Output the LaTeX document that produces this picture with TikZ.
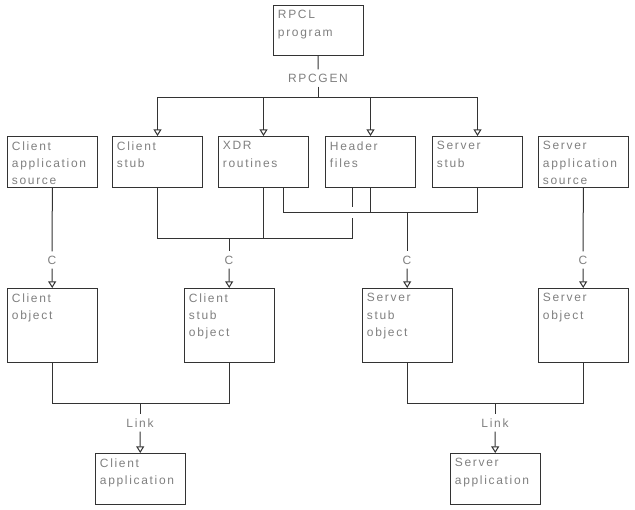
\documentclass[tikz,border=0pt]{standalone}
\usepackage{fontspec}
\setmainfont{Liberation Sans}
\newfontfamily\boxfont[LetterSpace=14]{Liberation Sans}
\usetikzlibrary{arrows.meta,positioning}
\tikzset{
  box/.style={draw=black!80,line width=.75pt,anchor=north west,minimum width=67.5pt,minimum height=38.25pt,inner sep=0pt},
  tall/.style={box,minimum height=55.5pt},
  txt/.style={text=black!50,font=\boxfont\fontsize{9}{13}\selectfont,align=left,anchor=north west,inner xsep=3.5pt,inner ysep=4pt},
  lbl/.style={text=black!50,font=\boxfont\fontsize{9}{13}\selectfont,inner xsep=2pt,inner ysep=3pt},
  wire/.style={draw=black!80,line width=.75pt},
  arr/.style={wire,-{Triangle[open,length=5pt,width=6pt]}},
}

\begin{document}
\begin{tikzpicture}[x=0.75pt,y=-0.75pt]
\useasboundingbox (0,0) rectangle (635,510);
% boxes
\node[box,minimum height=37.5pt] (rpcl) at (273,5) {};
\node[txt] (rpclT) at (rpcl.north west) {RPCL\\program};
\node[box] (capp) at (7,136) {};
\node[txt] (cappT) at (capp.north west) {Client\\application\\source};
\node[box] (cstub) at (112,136) {};
\node[txt] (cstubT) at (cstub.north west) {Client\\stub};
\node[box] (xdr) at (218,136) {};
\node[txt] (xdrT) at (xdr.north west) {XDR\\routines};
\node[box] (hdr) at (325,136) {};
\node[txt] (hdrT) at (hdr.north west) {Header\\files};
\node[box] (sstub) at (432,136) {};
\node[txt] (sstubT) at (sstub.north west) {Server\\stub};
\node[box] (sapp) at (538,136) {};
\node[txt] (sappT) at (sapp.north west) {Server\\application\\source};
\node[tall] (cobj) at (7,288) {};
\node[txt] (cobjT) at (cobj.north west) {Client\\object};
\node[tall] (csobj) at (184,288) {};
\node[txt] (csobjT) at (csobj.north west) {Client\\stub\\object};
\node[tall] (ssobj) at (362,288) {};
\node[txt] (ssobjT) at (ssobj.north west) {Server\\stub\\object};
\node[tall] (sobj) at (538,288) {};
\node[txt] (sobjT) at (sobj.north west) {Server\\object};
\node[box] (cexe) at (95,453) {};
\node[txt] (cexeT) at (cexe.north west) {Client\\application};
\node[box] (sexe) at (450,453) {};
\node[txt] (sexeT) at (sexe.north west) {Server\\application};
% labels
\node[lbl] (gen) at (318,78) {RPCGEN};
\node[lbl] (c1) at (52,260) {C};
\node[lbl] (c2) at (229,260) {C};
\node[lbl] (c3) at (407,260) {C};
\node[lbl] (c4) at (583,260) {C};
\node[lbl] (link1) at (140,423) {Link};
\node[lbl] (link2) at (495,423) {Link};
% rpcgen
\coordinate (busT) at (318,97);
\draw[wire] (rpcl) -- (gen);
\draw[wire] (gen) -- (busT);
\draw[wire] (cstub.north |- busT) -- (sstub.north |- busT);
\foreach \n in {cstub,xdr,hdr,sstub}
  \draw[arr] (\n.north |- busT) -- (\n.north);
% compile
\coordinate (lo) at (229,238);
\coordinate (hi) at (407,212);
\coordinate (hx) at (352,187);
\coordinate (xr) at (283,187);
\draw[wire] (cstub.south) |- (hx |- lo) -- ([yshift=-4.5pt]hx |- hi);
\draw[wire] (hx) -- ([yshift=3.75pt]hx |- hi);
\draw[wire] (xdr.south) -- (xdr.south |- lo);
\draw[wire] (xr) |- (sstub.south |- hi) -- (sstub.south);
\draw[wire] (hdr.south) -- (hdr.south |- hi);
\draw[wire] (capp) -- (c1);
\draw[arr] (c1) -- (cobj);
\draw[wire] (lo) -- (c2);
\draw[arr] (c2) -- (csobj);
\draw[wire] (hi) -- (c3);
\draw[arr] (c3) -- (ssobj);
\draw[wire] (sapp) -- (c4);
\draw[arr] (c4) -- (sobj);
% link
\coordinate (lk1) at (140,403);
\coordinate (lk2) at (495,403);
\draw[wire] (cobj.south) |- (csobj.south |- lk1) -- (csobj.south);
\draw[wire] (lk1) -- (link1);
\draw[arr] (link1) -- (cexe);
\draw[wire] (ssobj.south) |- (sobj.south |- lk2) -- (sobj.south);
\draw[wire] (lk2) -- (link2);
\draw[arr] (link2) -- (sexe);
\end{tikzpicture}
\end{document}
